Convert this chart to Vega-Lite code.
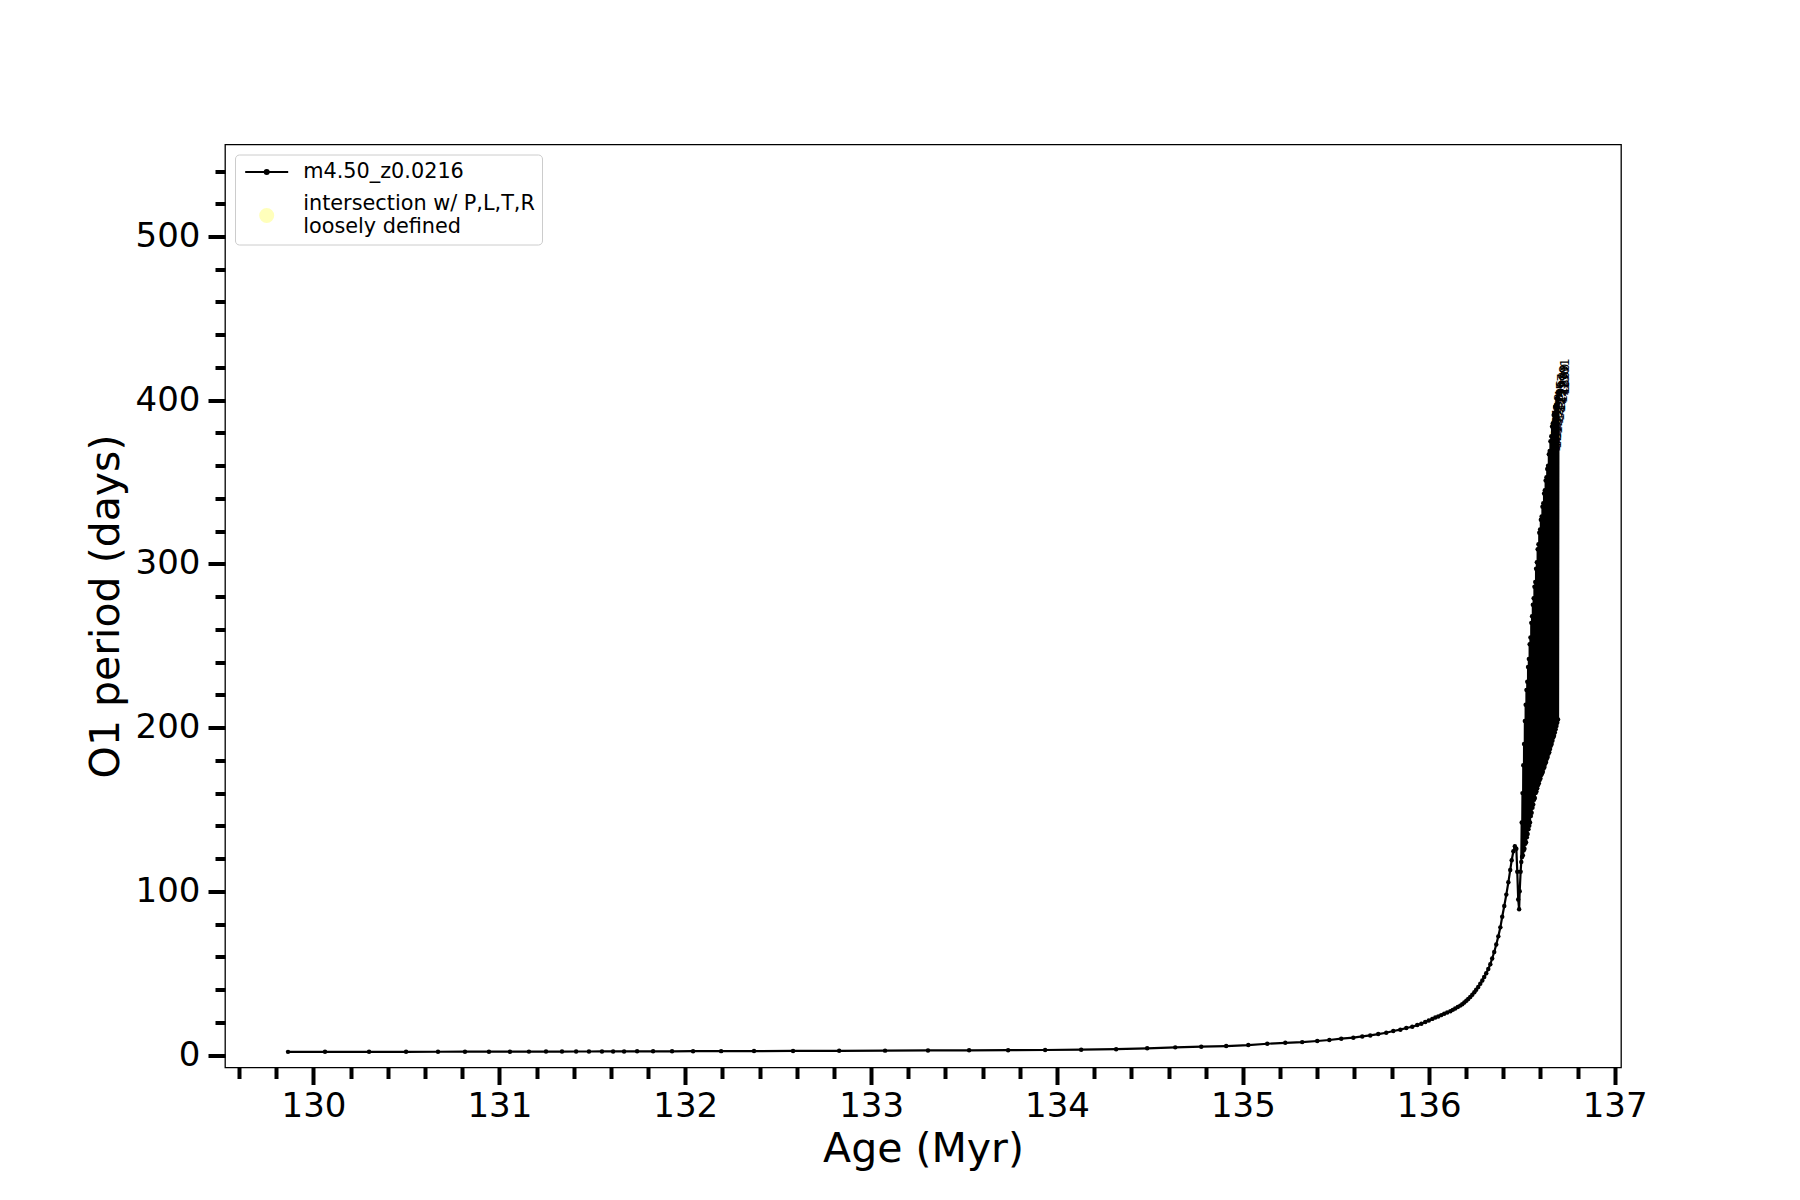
{
  "$schema": "https://vega.github.io/schema/vega-lite/v6.json",
  "width": 1396,
  "height": 923,
  "autosize": {"type": "none"},
  "padding": {"left": 225, "top": 144.5, "right": 179, "bottom": 132.5},
  "background": "white",
  "config": {
    "font": "DejaVu Sans",
    "view": {"stroke": "black", "strokeWidth": 1.3},
    "axis": {"domain": false, "grid": false, "tickColor": "black", "labelColor": "black", "titleColor": "black", "labelFontSize": 34, "titleFontSize": 41, "titleFontWeight": "normal", "labelFont": "DejaVu Sans", "titleFont": "DejaVu Sans"}
  },
  "data": {"values": [
    {"a": 129.863, "p": 1.95}, {"a": 130.062, "p": 1.96}, {"a": 130.299, "p": 1.98}, {"a": 130.498, "p": 2.0},
    {"a": 130.670, "p": 2.02}, {"a": 130.815, "p": 2.04}, {"a": 130.944, "p": 2.06}, {"a": 131.057, "p": 2.08},
    {"a": 131.159, "p": 2.1}, {"a": 131.251, "p": 2.12}, {"a": 131.337, "p": 2.14}, {"a": 131.413, "p": 2.16},
    {"a": 131.482, "p": 2.18}, {"a": 131.552, "p": 2.2}, {"a": 131.612, "p": 2.22}, {"a": 131.671, "p": 2.24},
    {"a": 131.741, "p": 2.26}, {"a": 131.827, "p": 2.28}, {"a": 131.929, "p": 2.3}, {"a": 132.042, "p": 2.35},
    {"a": 132.193, "p": 2.4}, {"a": 132.370, "p": 2.45}, {"a": 132.580, "p": 2.5}, {"a": 132.828, "p": 2.6},
    {"a": 133.075, "p": 2.7}, {"a": 133.306, "p": 2.8}, {"a": 133.527, "p": 2.9}, {"a": 133.737, "p": 3.0},
    {"a": 133.936, "p": 3.1}, {"a": 134.130, "p": 3.3}, {"a": 134.318, "p": 3.6}, {"a": 134.485, "p": 4.1},
    {"a": 134.636, "p": 4.7}, {"a": 134.776, "p": 5.1}, {"a": 134.910, "p": 5.5}, {"a": 135.029, "p": 6.1},
    {"a": 135.131, "p": 6.9}, {"a": 135.228, "p": 7.5}, {"a": 135.319, "p": 7.9}, {"a": 135.400, "p": 8.6},
    {"a": 135.465, "p": 9.2}, {"a": 135.529, "p": 10.0}, {"a": 135.594, "p": 10.6}, {"a": 135.642, "p": 11.4},
    {"a": 135.685, "p": 12.0}, {"a": 135.728, "p": 12.8}, {"a": 135.771, "p": 13.6}, {"a": 135.809, "p": 14.7},
    {"a": 135.847, "p": 15.5}, {"a": 135.879, "p": 16.5}, {"a": 135.911, "p": 17.3}, {"a": 135.938, "p": 18.3},
    {"a": 135.960, "p": 19.1}, {"a": 135.981, "p": 20.2}, {"a": 136.000, "p": 21.1}, {"a": 136.019, "p": 22.1},
    {"a": 136.035, "p": 22.9}, {"a": 136.051, "p": 23.6}, {"a": 136.067, "p": 24.4}, {"a": 136.083, "p": 25.2},
    {"a": 136.099, "p": 26.0}, {"a": 136.116, "p": 26.8}, {"a": 136.129, "p": 27.6}, {"a": 136.142, "p": 28.4},
    {"a": 136.156, "p": 29.3}, {"a": 136.169, "p": 30.2}, {"a": 136.180, "p": 31.1}, {"a": 136.191, "p": 32.1},
    {"a": 136.202, "p": 33.2}, {"a": 136.212, "p": 34.3}, {"a": 136.223, "p": 35.5}, {"a": 136.234, "p": 36.8},
    {"a": 136.245, "p": 38.3}, {"a": 136.255, "p": 39.9}, {"a": 136.266, "p": 41.6}, {"a": 136.277, "p": 43.5},
    {"a": 136.288, "p": 45.5}, {"a": 136.298, "p": 47.7}, {"a": 136.309, "p": 50.0}, {"a": 136.320, "p": 52.5},
    {"a": 136.331, "p": 55.5}, {"a": 136.341, "p": 59.0}, {"a": 136.352, "p": 63.0}, {"a": 136.363, "p": 67.5},
    {"a": 136.374, "p": 72.5}, {"a": 136.385, "p": 78.0}, {"a": 136.395, "p": 84.5}, {"a": 136.406, "p": 91.0},
    {"a": 136.417, "p": 98.0}, {"a": 136.428, "p": 105.5}, {"a": 136.438, "p": 113.0}, {"a": 136.446, "p": 119.0},
    {"a": 136.455, "p": 124.5}, {"a": 136.463, "p": 127.5}, {"a": 136.471, "p": 126.0}, {"a": 136.476, "p": 112.0},
    {"a": 136.481, "p": 95.0}, {"a": 136.486, "p": 89.0}, {"a": 136.489, "p": 100.0}, {"a": 136.494, "p": 112.0},
    {"a": 136.4975, "p": 118}, {"a": 136.4997, "p": 142},
    {"a": 136.5018, "p": 121}, {"a": 136.5040, "p": 160},
    {"a": 136.5061, "p": 122}, {"a": 136.5083, "p": 177},
    {"a": 136.5104, "p": 125}, {"a": 136.5126, "p": 190},
    {"a": 136.5147, "p": 126}, {"a": 136.5169, "p": 204},
    {"a": 136.5190, "p": 129}, {"a": 136.5212, "p": 214},
    {"a": 136.5233, "p": 130}, {"a": 136.5255, "p": 223},
    {"a": 136.5276, "p": 133}, {"a": 136.5298, "p": 228},
    {"a": 136.5319, "p": 135}, {"a": 136.5341, "p": 237},
    {"a": 136.5362, "p": 138}, {"a": 136.5384, "p": 242},
    {"a": 136.5405, "p": 140}, {"a": 136.5427, "p": 251},
    {"a": 136.5448, "p": 142}, {"a": 136.5470, "p": 255},
    {"a": 136.5491, "p": 146}, {"a": 136.5513, "p": 264},
    {"a": 136.5534, "p": 148}, {"a": 136.5556, "p": 268},
    {"a": 136.5577, "p": 151}, {"a": 136.5599, "p": 275},
    {"a": 136.5620, "p": 153}, {"a": 136.5642, "p": 279},
    {"a": 136.5663, "p": 156}, {"a": 136.5685, "p": 286},
    {"a": 136.5706, "p": 157}, {"a": 136.5728, "p": 289},
    {"a": 136.5749, "p": 160}, {"a": 136.5771, "p": 297},
    {"a": 136.5792, "p": 161}, {"a": 136.5814, "p": 301},
    {"a": 136.5835, "p": 163}, {"a": 136.5857, "p": 309},
    {"a": 136.5878, "p": 165}, {"a": 136.5900, "p": 312},
    {"a": 136.5921, "p": 166}, {"a": 136.5943, "p": 319},
    {"a": 136.5964, "p": 168}, {"a": 136.5986, "p": 321},
    {"a": 136.6007, "p": 169}, {"a": 136.6029, "p": 327},
    {"a": 136.6050, "p": 171}, {"a": 136.6072, "p": 329},
    {"a": 136.6093, "p": 172}, {"a": 136.6115, "p": 335},
    {"a": 136.6136, "p": 173}, {"a": 136.6158, "p": 337},
    {"a": 136.6179, "p": 175}, {"a": 136.6201, "p": 343},
    {"a": 136.6222, "p": 176}, {"a": 136.6244, "p": 345},
    {"a": 136.6265, "p": 178}, {"a": 136.6287, "p": 351},
    {"a": 136.6308, "p": 179}, {"a": 136.6330, "p": 353},
    {"a": 136.6351, "p": 181}, {"a": 136.6373, "p": 358},
    {"a": 136.6394, "p": 182}, {"a": 136.6416, "p": 360},
    {"a": 136.6437, "p": 184}, {"a": 136.6459, "p": 367, "lab": "1289"},
    {"a": 136.6480, "p": 185}, {"a": 136.6502, "p": 369, "lab": "1290"},
    {"a": 136.6523, "p": 187}, {"a": 136.6545, "p": 375, "lab": "1291"},
    {"a": 136.6566, "p": 189}, {"a": 136.6588, "p": 378, "lab": "1292"},
    {"a": 136.6609, "p": 190}, {"a": 136.6631, "p": 384, "lab": "1293"},
    {"a": 136.6652, "p": 192}, {"a": 136.6674, "p": 386, "lab": "1294"},
    {"a": 136.6695, "p": 194}, {"a": 136.6717, "p": 391, "lab": "1295"},
    {"a": 136.6738, "p": 195}, {"a": 136.6760, "p": 392, "lab": "1296"},
    {"a": 136.6781, "p": 197}, {"a": 136.6803, "p": 396, "lab": "1297"},
    {"a": 136.6824, "p": 199}, {"a": 136.6846, "p": 397, "lab": "1298"},
    {"a": 136.6867, "p": 201}, {"a": 136.6889, "p": 401, "lab": "1299"},
    {"a": 136.6910, "p": 203}, {"a": 136.6932, "p": 402, "lab": "1300"},
    {"a": 136.6953, "p": 205}, {"a": 136.6975, "p": 405, "lab": "1301"}
  ]},
  "layer": [
    {
      "mark": {"type": "line", "color": "black", "strokeWidth": 2.2},
      "encoding": {
        "x": {"field": "a", "type": "quantitative",
          "scale": {"domain": [129.524, 137.034], "nice": false, "zero": false},
          "axis": {
            "title": "Age (Myr)",
            "values": [129.6, 129.8, 130, 130.2, 130.4, 130.6, 130.8, 131, 131.2, 131.4, 131.6, 131.8, 132, 132.2, 132.4, 132.6, 132.8, 133, 133.2, 133.4, 133.6, 133.8, 134, 134.2, 134.4, 134.6, 134.8, 135, 135.2, 135.4, 135.6, 135.8, 136, 136.2, 136.4, 136.6, 136.8, 137],
            "tickCount": 200,
            "labelExpr": "abs(datum.value - round(datum.value)) < 0.01 ? format(datum.value, 'd') : ''",
            "tickSize": {"condition": {"test": "abs(datum.value - round(datum.value)) < 0.01", "value": 17}, "value": 11},
            "tickWidth": 4,
            "labelPadding": 5,
            "labelFlush": false,
            "labelOverlap": false,
            "titlePadding": 6
          }
        },
        "y": {"field": "p", "type": "quantitative",
          "scale": {"domain": [-7.6, 556.2], "nice": false, "zero": false},
          "axis": {
            "title": "O1 period (days)",
            "values": [0, 20, 40, 60, 80, 100, 120, 140, 160, 180, 200, 220, 240, 260, 280, 300, 320, 340, 360, 380, 400, 420, 440, 460, 480, 500, 520, 540],
            "tickCount": 200,
            "labelExpr": "datum.value % 100 == 0 ? format(datum.value, 'd') : ''",
            "tickSize": {"condition": {"test": "datum.value % 100 == 0", "value": 17}, "value": 10},
            "tickWidth": 4,
            "labelPadding": 8,
            "labelOverlap": false,
            "titlePadding": 8
          }
        }
      }
    },
    {
      "mark": {"type": "circle", "color": "black", "size": 20, "opacity": 1},
      "encoding": {
        "x": {"field": "a", "type": "quantitative"},
        "y": {"field": "p", "type": "quantitative"}
      }
    },
    {
      "transform": [{"filter": "isValid(datum.lab)"}],
      "mark": {"type": "text", "angle": 270, "align": "left", "baseline": "top", "font": "DejaVu Sans Mono", "fontSize": 13, "dx": 2, "dy": 1, "color": "black"},
      "encoding": {
        "x": {"field": "a", "type": "quantitative"},
        "y": {"field": "p", "type": "quantitative"},
        "text": {"field": "lab"}
      }
    },
    {
      "transform": [{"filter": "false"}],
      "mark": {"type": "point", "filled": true, "strokeWidth": 2, "opacity": 1},
      "encoding": {
        "fill": {"field": "series", "type": "nominal", "title": null,
          "scale": {"domain": ["m4.50_z0.0216", "intersection w/ P,L,T,R|loosely defined"], "range": ["black", "#ffffbb"]},
          "legend": {"orient": "top-left", "offset": 10, "padding": 7, "rowPadding": 10.6, "symbolOffset": 14.3, "labelOffset": 26.1, "labelFontSize": 20.8, "labelFont": "DejaVu Sans", "labelColor": "black", "labelLimit": 0, "symbolStrokeWidth": 2, "strokeColor": "#cccccc", "fillColor": "white", "cornerRadius": 4, "symbolOpacity": 1, "labelExpr": "split(datum.label, '|')",
            "encode": {"labels": {"update": {"dy": {"signal": "indexof(datum.value, 'intersection') >= 0 ? -11.4 : 0"}}}}}},
        "stroke": {"field": "series", "type": "nominal", "title": null,
          "scale": {"domain": ["m4.50_z0.0216", "intersection w/ P,L,T,R|loosely defined"], "range": ["black", "#ffffbb"]},
          "legend": {"orient": "top-left", "offset": 10, "padding": 7, "rowPadding": 10.6, "symbolOffset": 14.3, "labelOffset": 26.1, "labelFontSize": 20.8, "labelFont": "DejaVu Sans", "labelColor": "black", "labelLimit": 0, "symbolStrokeWidth": 2, "strokeColor": "#cccccc", "fillColor": "white", "cornerRadius": 4, "symbolOpacity": 1, "labelExpr": "split(datum.label, '|')",
            "encode": {"labels": {"update": {"dy": {"signal": "indexof(datum.value, 'intersection') >= 0 ? -11.4 : 0"}}}}}},
        "shape": {"field": "series", "type": "nominal", "title": null,
          "scale": {"domain": ["m4.50_z0.0216", "intersection w/ P,L,T,R|loosely defined"], "range": ["M-4.3,0H4.3M-0.4,0A0.4,0.4,0,1,0,0.4,0A0.4,0.4,0,1,0,-0.4,0", "circle"]},
          "legend": {"orient": "top-left", "offset": 10, "padding": 7, "rowPadding": 10.6, "symbolOffset": 14.3, "labelOffset": 26.1, "labelFontSize": 20.8, "labelFont": "DejaVu Sans", "labelColor": "black", "labelLimit": 0, "symbolStrokeWidth": 2, "strokeColor": "#cccccc", "fillColor": "white", "cornerRadius": 4, "symbolOpacity": 1, "labelExpr": "split(datum.label, '|')",
            "encode": {"labels": {"update": {"dy": {"signal": "indexof(datum.value, 'intersection') >= 0 ? -11.4 : 0"}}}}}},
        "size": {"field": "series", "type": "nominal", "title": null,
          "scale": {"type": "ordinal", "domain": ["m4.50_z0.0216", "intersection w/ P,L,T,R|loosely defined"], "range": [100, 170]},
          "legend": {"orient": "top-left", "offset": 10, "padding": 7, "rowPadding": 10.6, "symbolOffset": 14.3, "labelOffset": 26.1, "labelFontSize": 20.8, "labelFont": "DejaVu Sans", "labelColor": "black", "labelLimit": 0, "symbolStrokeWidth": 2, "strokeColor": "#cccccc", "fillColor": "white", "cornerRadius": 4, "symbolOpacity": 1, "labelExpr": "split(datum.label, '|')",
            "encode": {"labels": {"update": {"dy": {"signal": "indexof(datum.value, 'intersection') >= 0 ? -11.4 : 0"}}}}}}
      }
    }
  ]
}
